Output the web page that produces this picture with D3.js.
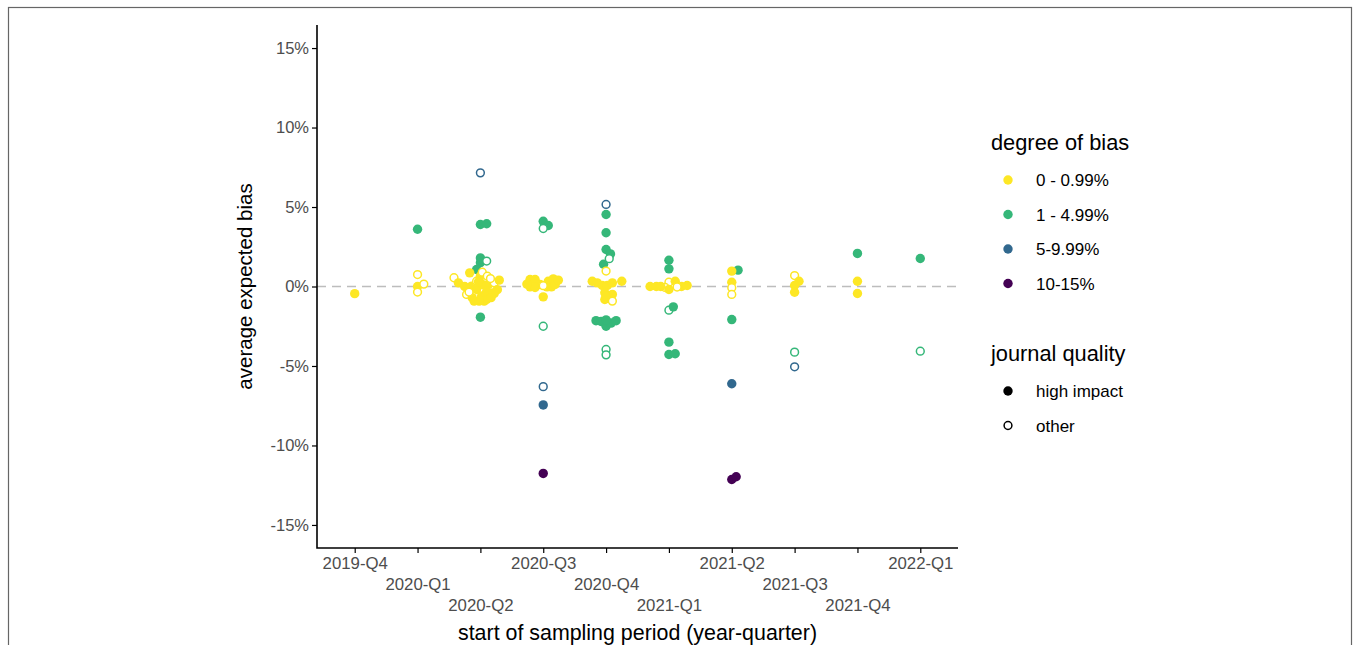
<!DOCTYPE html>
<html>
<head>
<meta charset="utf-8">
<script src="https://cdn.jsdelivr.net/npm/d3@7"></script>
<style>
  body { margin: 0; background: #fff; }
  text { font-family: "Liberation Sans", Arial, sans-serif; }
</style>
</head>
<body>
<div id="chart"></div>
<script>
// quarters on the x axis (dodged into three label rows)
const quarters = ["2019-Q4", "2020-Q1", "2020-Q2", "2020-Q3", "2020-Q4",
  "2021-Q1", "2021-Q2", "2021-Q3", "2021-Q4", "2022-Q1"];
const yTicks = [-15, -10, -5, 0, 5, 10, 15];

// each point: [quarter, jitter (in quarter units), bias %, high impact 1/0]
const bias0to1 = [
  ["2019-Q4", 0, -0.45, 1],
  ["2020-Q1", 0, 0.75, 0], ["2020-Q1", 0, 0.0, 1], ["2020-Q1", 0.1, 0.15, 0], ["2020-Q1", 0, -0.35, 0],
  ["2020-Q2", -0.42, 0.55, 0], ["2020-Q2", -0.35, 0.23, 1], ["2020-Q2", -0.17, 0.86, 1],
  ["2020-Q2", -0.22, -0.5, 0], ["2020-Q2", -0.13, -0.7, 1], ["2020-Q2", -0.14, 0.02, 1],
  ["2020-Q2", 0, 0.65, 1], ["2020-Q2", 0.03, 0.9, 0], ["2020-Q2", -0.06, -0.19, 1],
  ["2020-Q2", 0.02, -0.6, 1], ["2020-Q2", 0.1, -0.82, 1], ["2020-Q2", 0.11, 0.65, 0],
  ["2020-Q2", 0.13, 0.13, 1], ["2020-Q2", 0.19, -0.4, 1], ["2020-Q2", 0.22, 0.23, 0],
  ["2020-Q2", 0.3, 0.4, 1], ["2020-Q2", 0.22, -0.44, 1], ["2020-Q2", -0.1, -0.92, 1],
  ["2020-Q2", 0.06, -0.92, 1], ["2020-Q2", -0.02, -0.92, 1], ["2020-Q2", -0.25, 0.0, 1],
  ["2020-Q2", 0.03, 0.13, 1], ["2020-Q2", -0.06, 0.33, 0], ["2020-Q2", 0.1, -0.3, 1],
  ["2020-Q2", -0.03, 0.3, 1], ["2020-Q2", 0.16, 0.5, 0], ["2020-Q2", -0.18, -0.35, 0],
  ["2020-Q2", 0.17, -0.7, 1], ["2020-Q2", 0.27, -0.2, 1],
  ["2020-Q3", -0.21, 0.44, 1], ["2020-Q3", -0.13, 0.44, 1], ["2020-Q3", -0.05, 0.13, 1],
  ["2020-Q3", -0.21, -0.02, 1], ["2020-Q3", -0.13, -0.06, 1], ["2020-Q3", 0.08, 0.33, 1],
  ["2020-Q3", 0.16, 0.48, 1], ["2020-Q3", 0.13, -0.02, 1], ["2020-Q3", 0.06, -0.02, 1],
  ["2020-Q3", 0.19, 0.13, 1], ["2020-Q3", 0, -0.65, 1], ["2020-Q3", -0.26, 0.15, 1],
  ["2020-Q3", 0.24, 0.4, 1], ["2020-Q3", 0, 0.05, 0],
  ["2020-Q4", 0, 0.97, 0], ["2020-Q4", -0.22, 0.33, 1], ["2020-Q4", -0.14, 0.23, 1],
  ["2020-Q4", -0.06, 0.06, 1], ["2020-Q4", 0.02, 0.06, 1], ["2020-Q4", 0.1, 0.23, 1],
  ["2020-Q4", 0.25, 0.33, 1], ["2020-Q4", -0.02, -0.4, 1], ["2020-Q4", 0.1, -0.5, 1],
  ["2020-Q4", -0.02, -0.82, 1], ["2020-Q4", 0.1, -0.92, 0], ["2020-Q4", 0, -0.6, 1],
  ["2021-Q1", -0.3, 0.0, 1], ["2021-Q1", -0.2, 0.0, 1], ["2021-Q1", 0, 0.27, 0],
  ["2021-Q1", 0.1, 0.33, 1], ["2021-Q1", -0.06, -0.06, 0], ["2021-Q1", 0, -0.19, 1],
  ["2021-Q1", 0.2, 0.0, 1], ["2021-Q1", 0.29, 0.06, 1], ["2021-Q1", 0.13, -0.03, 0],
  ["2021-Q1", -0.13, 0.0, 1],
  ["2021-Q2", 0, 0.97, 1], ["2021-Q2", 0, 0.27, 1], ["2021-Q2", 0, -0.08, 0], ["2021-Q2", 0, -0.5, 0],
  ["2021-Q3", 0, 0.69, 0], ["2021-Q3", 0.07, 0.33, 1], ["2021-Q3", 0, 0.06, 1], ["2021-Q3", 0, -0.36, 1],
  ["2021-Q4", 0, 0.33, 1], ["2021-Q4", 0, -0.44, 1]
];
const bias1to5 = [
  ["2020-Q1", 0, 3.6, 1],
  ["2020-Q2", 0, 3.9, 1], ["2020-Q2", 0.1, 3.95, 1], ["2020-Q2", 0, 1.8, 1], ["2020-Q2", 0, 1.5, 1],
  ["2020-Q2", 0.1, 1.6, 0], ["2020-Q2", -0.06, 1.07, 1], ["2020-Q2", 0, -1.93, 1],
  ["2020-Q3", 0, 4.1, 1], ["2020-Q3", 0.08, 3.84, 1], ["2020-Q3", 0, 3.65, 0], ["2020-Q3", 0, -2.5, 0],
  ["2020-Q4", 0, 4.53, 1], ["2020-Q4", 0, 3.38, 1], ["2020-Q4", 0, 2.33, 1], ["2020-Q4", 0.07, 2.05, 1],
  ["2020-Q4", -0.04, 1.4, 1], ["2020-Q4", 0.05, 1.75, 0],
  ["2020-Q4", -0.16, -2.15, 1], ["2020-Q4", -0.08, -2.2, 1], ["2020-Q4", 0, -2.5, 1],
  ["2020-Q4", 0.08, -2.3, 1], ["2020-Q4", 0.16, -2.15, 1], ["2020-Q4", 0, -2.1, 1],
  ["2020-Q4", 0, -3.96, 0], ["2020-Q4", 0, -4.3, 0],
  ["2021-Q1", 0, 1.65, 1], ["2021-Q1", 0, 1.11, 1], ["2021-Q1", 0, -1.49, 0], ["2021-Q1", 0.07, -1.28, 1],
  ["2021-Q1", 0, -3.5, 1], ["2021-Q1", 0, -4.28, 1], ["2021-Q1", 0.1, -4.23, 1],
  ["2021-Q2", 0.1, 1.03, 1], ["2021-Q2", 0, -2.08, 1],
  ["2021-Q3", 0, -4.13, 0],
  ["2021-Q4", 0, 2.08, 1],
  ["2022-Q1", 0, 1.76, 1], ["2022-Q1", 0, -4.07, 0]
];
const bias5to10 = [
  ["2020-Q2", 0, 7.15, 0],
  ["2020-Q3", 0, -6.3, 0], ["2020-Q3", 0, -7.45, 1],
  ["2020-Q4", 0, 5.16, 0],
  ["2021-Q2", 0, -6.12, 1],
  ["2021-Q3", 0, -5.05, 0]
];
const bias10to15 = [
  ["2020-Q3", 0, -11.76, 1],
  ["2021-Q2", 0, -12.14, 1], ["2021-Q2", 0.07, -11.97, 1]
];

const groups = ["0 - 0.99%", "1 - 4.99%", "5-9.99%", "10-15%"];
const groupColors = ["#FDE725", "#35B779", "#31688E", "#440154"];
const qualityLabels = ["high impact", "other"];

const W = 1356, H = 645;
const plot = { left: 317, right: 958, top: 25, bottom: 548 };

const svg = d3.select("#chart").append("svg")
  .attr("width", W).attr("height", H);

// outer frame of the figure
svg.append("rect")
  .attr("x", 8.5).attr("y", 7.5)
  .attr("width", 1343).attr("height", 700)
  .attr("fill", "none").attr("stroke", "#666").attr("stroke-width", 1.2);

const x = d3.scalePoint().domain(quarters)
  .range([plot.left, plot.right]).padding(0.6);
const step = x.step();
const y = d3.scaleLinear().domain([-16.45, 16.45])
  .range([plot.bottom, plot.top]);

// zero reference line
svg.append("line")
  .attr("x1", plot.left).attr("x2", plot.right)
  .attr("y1", y(0)).attr("y2", y(0))
  .attr("stroke", "#bdbdbd").attr("stroke-width", 1.6)
  .attr("stroke-dasharray", "9,6");

// axes
const yAxis = svg.append("g")
  .attr("transform", `translate(${plot.left},0)`)
  .call(d3.axisLeft(y).tickValues(yTicks).tickSize(5).tickPadding(3)
    .tickFormat(d => d + "%"));
yAxis.select(".domain").remove();
yAxis.selectAll(".tick line").attr("stroke", "#000").attr("stroke-width", 1.2);
yAxis.selectAll(".tick text").attr("fill", "#4d4d4d")
  .style("font-size", "16.5px").style("font-family", "Liberation Sans, Arial, sans-serif");

const xAxis = svg.append("g")
  .attr("transform", `translate(0,${plot.bottom})`)
  .call(d3.axisBottom(x).tickSize(5).tickPadding(4));
xAxis.select(".domain").remove();
xAxis.selectAll(".tick line").attr("stroke", "#000").attr("stroke-width", 1.2);
xAxis.selectAll(".tick text")
  .attr("fill", "#4d4d4d")
  .attr("y", (d, i) => 9 + (i % 3) * 21)
  .style("font-size", "16.8px").style("font-family", "Liberation Sans, Arial, sans-serif");

svg.append("path")
  .attr("d", `M${plot.left},${plot.top}V${plot.bottom}H${plot.right}`)
  .attr("fill", "none").attr("stroke", "#000").attr("stroke-width", 1.6);

// axis titles
svg.append("text")
  .attr("x", (plot.left + plot.right) / 2).attr("y", 640)
  .attr("text-anchor", "middle")
  .style("font-size", "21.4px")
  .text("start of sampling period (year-quarter)");

svg.append("text")
  .attr("transform", `translate(252,${y(0)}) rotate(-90)`)
  .attr("text-anchor", "middle")
  .style("font-size", "20.5px")
  .text("average expected bias");

// points
const series = [bias0to1, bias1to5, bias5to10, bias10to15];
const drawOrder = [1, 2, 3, 0];
drawOrder.forEach(gi => {
  svg.append("g").selectAll("circle")
    .data(series[gi])
    .join("circle")
    .attr("cx", d => x(d[0]) + d[1] * step)
    .attr("cy", d => y(d[2]))
    .attr("r", d => d[3] ? 4.7 : 3.9)
    .attr("fill", d => d[3] ? groupColors[gi] : "#fff")
    .attr("stroke", d => d[3] ? "none" : groupColors[gi])
    .attr("stroke-width", 1.5);
});

// legend: degree of bias
const legend = svg.append("g");
legend.append("text")
  .attr("x", 991).attr("y", 150)
  .style("font-size", "21.8px")
  .text("degree of bias");
groups.forEach((g, i) => {
  const cy = 180 + i * 34.5;
  legend.append("circle")
    .attr("cx", 1008).attr("cy", cy).attr("r", 4.7)
    .attr("fill", groupColors[i]);
  legend.append("text")
    .attr("x", 1036).attr("y", cy + 6)
    .style("font-size", "17px")
    .text(g);
});

// legend: journal quality
legend.append("text")
  .attr("x", 991).attr("y", 361)
  .style("font-size", "21.8px")
  .text("journal quality");
qualityLabels.forEach((q, i) => {
  const cy = 391 + i * 34.5;
  legend.append("circle")
    .attr("cx", 1008).attr("cy", cy)
    .attr("r", i === 0 ? 4.7 : 3.9)
    .attr("fill", i === 0 ? "#000" : "#fff")
    .attr("stroke", i === 0 ? "none" : "#000")
    .attr("stroke-width", 1.5);
  legend.append("text")
    .attr("x", 1036).attr("y", cy + 6)
    .style("font-size", "17px")
    .text(q);
});
</script>
</body>
</html>
